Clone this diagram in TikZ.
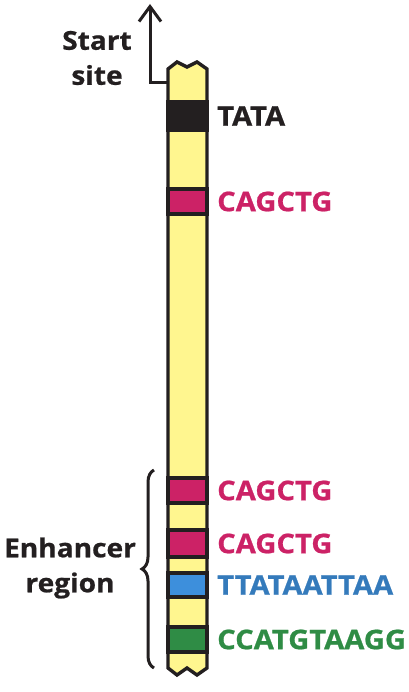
\documentclass[tikz,border=0pt]{standalone}
\usepackage{xcolor}
\usepackage{fontspec}
\setmainfont{Open Sans}
\newfontfamily\labelfont{Open Sans}[UprightFont=* Bold, FakeStretch=1.08, FakeBold=0.8]
\usepackage{tikz}
\usetikzlibrary{arrows.meta,decorations.pathreplacing}

\definecolor{dnayellow}{HTML}{FFF68F}
\definecolor{boxmagenta}{HTML}{CC2266}
\definecolor{boxblue}{HTML}{3D8FDC}
\definecolor{boxgreen}{HTML}{2F8C45}
\definecolor{txtblack}{HTML}{231F20}

\tikzset{
  band/.style={draw=txtblack, line width=3.4pt},
  seqlabel/.style={anchor=west, inner sep=0pt, font=\fontsize{27}{30}\selectfont\labelfont},
  sidelabel/.style={align=center, inner sep=0pt, text=txtblack, font=\fontsize{26}{35}\selectfont\labelfont}
}

\begin{document}
\begin{tikzpicture}[x=1pt,y=-1pt]

        \useasboundingbox (0,0) rectangle (408,692);

        %DNA strand
        \draw [line width=3.4pt, draw=txtblack, fill=dnayellow, line join=miter]
          (168,69) -- (168,668) -- (177,675) -- (187,668) -- (197,675) -- (207,668)
          -- (207,69) -- (197,62) -- (187,67) -- (177,62) -- cycle;

        %Boxes
        \draw [band, fill=txtblack] (168,102) rectangle (207,130);
        \draw [band, fill=boxmagenta] (168,189) rectangle (207,214);
        \draw [band, fill=boxmagenta] (168,478) rectangle (207,503);
        \draw [band, fill=boxmagenta] (168,530) rectangle (207,557);
        \draw [band, fill=boxblue] (168,573) rectangle (207,597);
        \draw [band, fill=boxgreen] (168,627) rectangle (207,652);

        %Sequences
        \node [seqlabel, text=txtblack] (tata) at (217,116) {TATA};
        \node [seqlabel, text=boxmagenta] (cagctga) at (217,201.5) {CAGCTG};
        \node [seqlabel, text=boxmagenta] (cagctgb) at (217,490.5) {CAGCTG};
        \node [seqlabel, text=boxmagenta] (cagctgc) at (217,543.5) {CAGCTG};
        \node [seqlabel, text=boxblue!85!black] (ttataattaa) at (217,585) {TTATAATTAA};
        \node [seqlabel, text=boxgreen] (ccatgtaagg) at (217,639.5) {CCATGTAAGG};

        %Start site
        \node [sidelabel] (startsite) at (97,58) {Start\\site};
        \coordinate (strand) at (168,83);
        \coordinate (tip) at (150,4);
        \draw [line width=3pt, draw=txtblack, -{Straight Barb[length=15pt,width=22pt]}] (strand) -| (tip);

        %Enhancer region
        \node [sidelabel] (enhancer) at (70,568) {Enhancer\\region};
        \coordinate (bracetop) at (154,470);
        \coordinate (bracebottom) at (154,668);
        \draw [line width=3pt, draw=txtblack, decorate, decoration={brace, amplitude=12pt}] (bracebottom) -- (bracetop);

      \end{tikzpicture}
\end{document}
